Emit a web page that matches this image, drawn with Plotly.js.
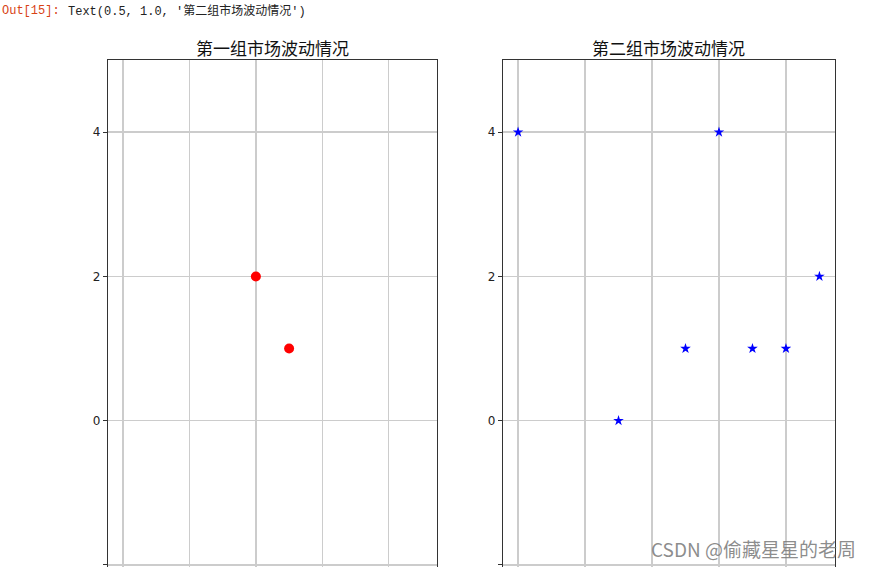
<!DOCTYPE html>
<html>
<head>
<meta charset="utf-8">
<script src="https://cdn.plot.ly/plotly-3.0.1.min.js"></script>
<style>
  html, body { margin: 0; padding: 0; background: #fff; }
  #chart { width: 871px; height: 567px; }
</style>
</head>
<body>
<div id="chart"></div>
<script>
// 第一组
const x1 = [4, 5];
const y1 = [2, 1];
// 第二组
const x2 = [0, 3, 5, 6, 7, 8, 9];
const y2 = [4, 0, 1, 4, 1, 1, 2];

const xTicks = [0, 2, 4, 6, 8];
const yTicks = [-2, 0, 2, 4];
const yTickText = ['\u22122', '0', '2', '4'];

const titles = ['第一组市场波动情况', '第二组市场波动情况'];
const outLabel = 'Out[15]:';
const outText = "Text(0.5, 1.0, '第二组市场波动情况')";
const watermark = 'CSDN @偷藏星星的老周';

const W = 871, H = 567;
const px = v => v / W;
const py = v => 1 - v / H;

const group1 = {
  x: x1, y: y1, xaxis: 'x', yaxis: 'y',
  mode: 'markers', type: 'scatter',
  marker: { color: 'red', size: 10, symbol: 'circle' },
  hoverinfo: 'x+y'
};

const group2 = {
  x: x2, y: y2, xaxis: 'x2', yaxis: 'y2',
  mode: 'markers', type: 'scatter',
  marker: { color: 'blue', size: 8, symbol: 'star' },
  hoverinfo: 'x+y'
};

// 两个子图共用的坐标轴样式
const xStyle = {
  range: [-0.45, 9.45],
  tickvals: xTicks,
  showticklabels: false,
  showgrid: true, gridcolor: '#cccccc', gridwidth: 1.3,
  zeroline: false,
  showline: true, linecolor: '#333', linewidth: 1.3, mirror: true,
  ticks: 'outside', ticklen: 4, tickcolor: '#333'
};
const yStyle = {
  range: [-2.028, 5],
  tickvals: yTicks,
  ticktext: yTickText,
  showgrid: true, gridcolor: '#cccccc', gridwidth: 1.3,
  zeroline: false,
  showline: true, linecolor: '#333', linewidth: 1.3, mirror: true,
  ticks: 'outside', ticklen: 4, tickcolor: '#333',
  tickfont: { family: 'DejaVu Sans', size: 12, color: '#222' }
};

const dom1 = [px(108), px(437)];
const dom2 = [px(503), px(834.5)];
const yDom = [0, py(60)];

const layout = {
  width: W, height: H,
  margin: { l: 0, r: 0, t: 0, b: 0 },
  paper_bgcolor: '#fff', plot_bgcolor: '#fff',
  showlegend: false,
  xaxis: Object.assign({}, xStyle, { domain: dom1, anchor: 'y' }),
  yaxis: Object.assign({}, yStyle, { domain: yDom, anchor: 'x' }),
  xaxis2: Object.assign({}, xStyle, { domain: dom2, anchor: 'y2' }),
  yaxis2: Object.assign({}, yStyle, { domain: yDom, anchor: 'x2' }),
  annotations: [
    {
      text: titles[0], xref: 'paper', yref: 'paper',
      x: (dom1[0] + dom1[1]) / 2, y: py(47), xanchor: 'center', yanchor: 'middle',
      showarrow: false, font: { family: 'Noto Sans CJK SC', size: 17, color: '#111' }
    },
    {
      text: titles[1], xref: 'paper', yref: 'paper',
      x: (dom2[0] + dom2[1]) / 2, y: py(47), xanchor: 'center', yanchor: 'middle',
      showarrow: false, font: { family: 'Noto Sans CJK SC', size: 17, color: '#111' }
    },
    {
      text: outLabel, xref: 'paper', yref: 'paper',
      x: px(0), y: py(11), xanchor: 'left', yanchor: 'middle',
      showarrow: false, font: { family: 'Liberation Mono', size: 12, color: '#d84315' }
    },
    {
      text: outText, xref: 'paper', yref: 'paper',
      x: px(66), y: py(11), xanchor: 'left', yanchor: 'middle',
      showarrow: false, font: { family: 'Liberation Mono, Noto Sans CJK SC', size: 12, color: '#222' }
    },
    {
      text: watermark, xref: 'paper', yref: 'paper',
      x: px(858), y: py(548), xanchor: 'right', yanchor: 'middle',
      showarrow: false, font: { family: 'Noto Sans CJK SC', size: 19, color: 'rgba(120,120,120,0.85)' }
    }
  ]
};

Plotly.newPlot('chart', [group1, group2], layout, { displayModeBar: false, staticPlot: true });
</script>
</body>
</html>
